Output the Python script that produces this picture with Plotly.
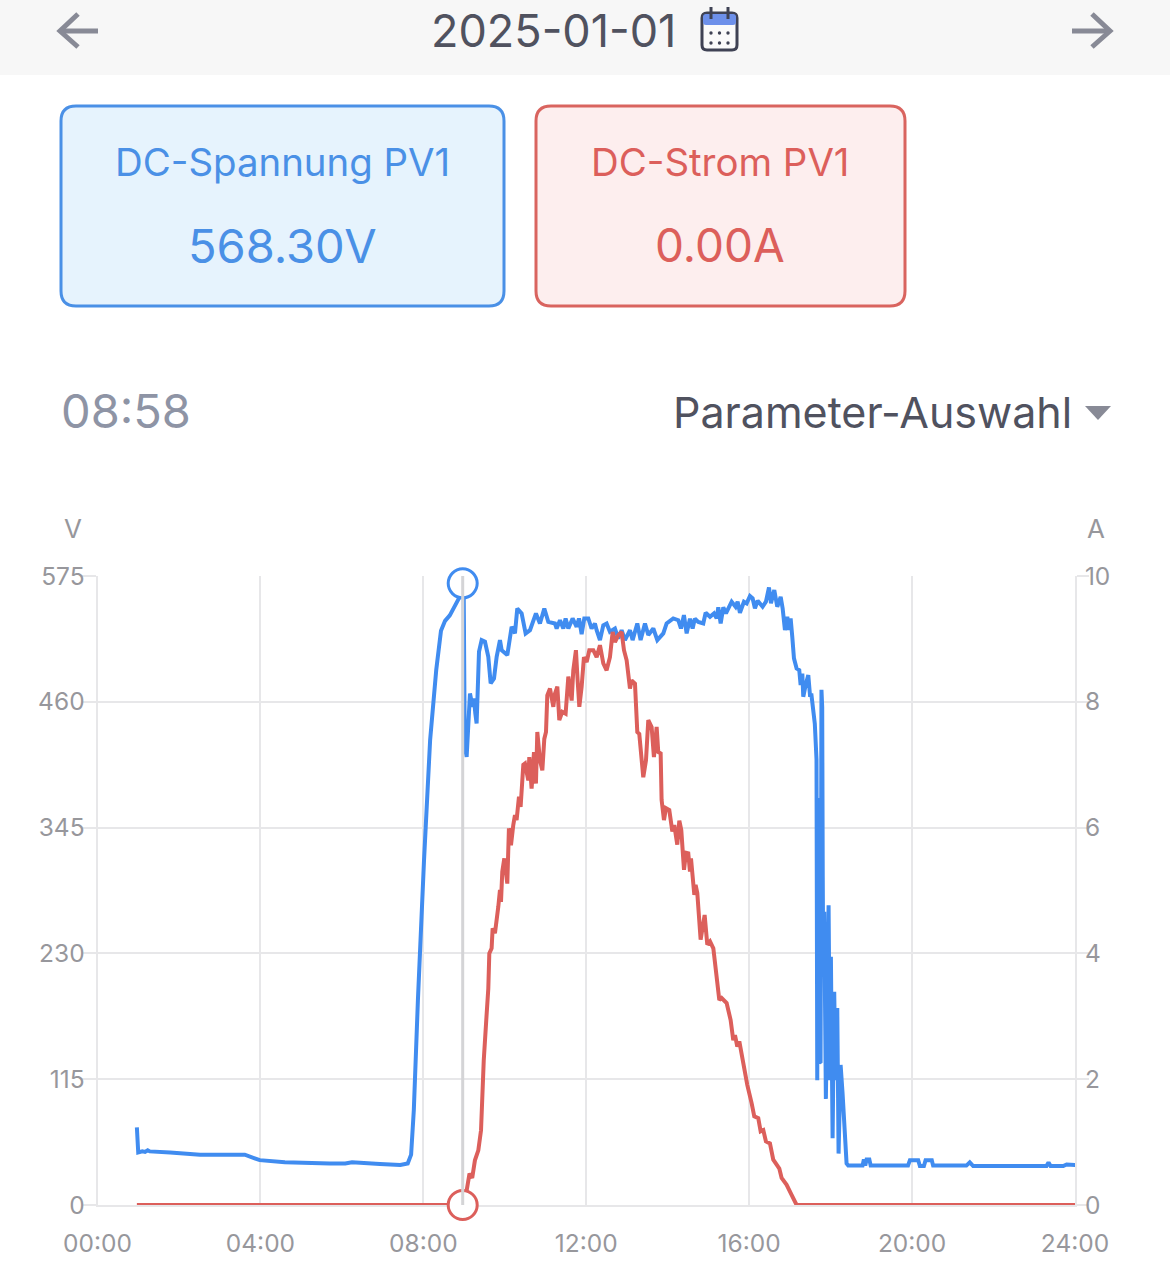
import plotly.graph_objects as go

W, H = 1170, 1270

# ---------- data ----------
date_label = "2025-01-01"
cursor_label = "08:58"
voltage_title = "DC-Spannung PV1"
current_title = "DC-Strom PV1"
voltage_reading = "568.30V"
current_reading = "0.00A"
selector_label = "Parameter-Auswahl"

x_ticks = [0, 240, 480, 720, 960, 1200, 1440]
x_labels = ["00:00", "04:00", "08:00", "12:00", "16:00", "20:00", "24:00"]
v_ticks = [0, 115, 230, 345, 460, 575]
a_ticks = [0, 2, 4, 6, 8, 10]

cursor_minute = [538]
cursor_volt = [568.3]
cursor_amp = [0.0]

volt_min = [58, 60, 66, 70, 74, 77, 107, 151, 217, 239, 276, 342, 365, 375, 416, 446, 457, 462, 466, 472, 481, 490, 499, 506, 512,
            519, 531, 535.5, 538, 539.5, 541, 543.8, 548.7, 552.6, 554.6, 556.6, 558.5, 562, 565.9, 570.8, 575.7, 579.2,
            584.1, 588, 592.9, 595.4, 603.7, 610.1, 615, 618.4, 624.8, 630.7, 637.1, 645.9, 651.8, 658.2, 664.1, 673.9,
            676.4, 681.3, 686.2, 689.6, 693.6, 699.9, 705.8, 709.3, 713.2, 717.1, 723, 727.9, 732.8, 735.3, 740.2, 745.1,
            750, 754.9, 762.3, 767.2, 772.1, 777, 784.4, 788.3, 795.2, 800.1, 806.5, 811.4, 818.8, 824.7, 833.5, 838.4,
            848.2, 855.6, 859.5, 863.9, 867.9, 872.8, 876.7, 880, 885, 892.4, 895.9, 902.3, 908.2, 912.1, 914.5, 918,
            921.9, 925.8, 934.2, 940, 943, 946.4, 952.3, 956.3, 961.2, 965.1, 968.5, 972.5, 979.8, 984.7, 989.2, 992.1,
            997, 1001.4, 1006.4, 1009.3, 1012.7, 1016.2, 1018.6, 1021.1, 1023.5, 1026, 1029.9, 1033.8, 1035.8, 1038.3,
            1039.7, 1043.2, 1047.1, 1049.6, 1051.8, 1056.7, 1059.2, 1060.3, 1061.6, 1063.2, 1065.2, 1066.5,
            1067.6, 1068.4, 1069.1, 1070.6, 1073, 1077, 1079, 1080.4, 1082.9, 1085.3, 1087.3, 1089.8, 1091.7, 1094.7,
            1097.6, 1103.5, 1106, 1127, 1129, 1131, 1133, 1137, 1139, 1194, 1196.8, 1209, 1211.5, 1217.4, 1219.9, 1229,
            1231, 1280, 1285, 1290, 1398, 1401, 1404, 1422.7, 1427.6, 1441]
volt_val = [71, 48, 49, 48.5, 50, 49, 48, 46, 46, 41, 39, 38, 38, 39, 37.5, 36.5, 38, 46, 87, 187, 315, 425, 489, 525, 534,
            539, 553, 558, 568.3, 560, 420, 409.7, 467.6, 455.4, 463, 449.3, 440.2, 505.7, 516.4, 514.9, 501.1, 476.8,
            481.3, 501.1, 516.4, 507.2, 502.7, 528.6, 522.5, 545.3, 540.8, 522.5, 525.5, 540.8, 531.6, 545.3, 533.1, 531.6,
            527, 534.6, 527, 536.2, 527, 536.2, 528.6, 536.2, 521.9, 536.2, 536.2, 527, 531.6, 525.5, 516.4, 530,
            531.6, 524, 527, 517.9, 525.5, 516.4, 525.5, 516.4, 531.6, 516.4, 531.6, 521, 527, 516.4, 522.5, 531.6,
            536.2, 534.6, 527, 539.2, 522.5, 536, 527, 536, 533, 531.6, 541.4, 537.7, 540.8, 536.2, 546.3, 531.6,
            546.3, 540.8, 551.5, 546.9, 551.5, 541.4, 551.5, 550, 556.6, 554.5, 545.4, 552.4, 546.9, 551.5, 564.6, 550,
            562.1, 546.9, 556, 545.4, 525.6, 537.7, 525.6, 536.2, 519.5, 499.7, 490.5, 489, 475.3, 485.9,
            464.6, 475.3, 484.4, 466.1, 466, 440, 407, 114, 372, 130, 131, 471,
            455, 300, 216, 268, 97, 274, 114, 227, 61, 195, 114, 180, 47, 128,
            102, 38, 36, 36, 41.7, 36, 41.7, 41.7, 36, 36, 41, 41, 35.6, 35.6, 41, 41,
            36, 36, 39, 35.6, 35.6, 39, 35.6, 35.6, 37, 36.5]

amp_min = [58, 538, 544, 548, 552, 556, 561, 565, 569, 572.7, 575.7, 577.2, 580.6, 582.1, 585.5, 590.4, 592.9, 594.4, 596.3,
           599.3, 603.7, 606.1, 609.1, 612.5, 615, 617.4, 620.9, 623.3, 627.3, 629.7, 634.6, 636.1,
           639.5, 643, 645.9, 647.9, 651.8, 655.3, 658.2, 660.7, 662.6, 666.6, 671.5, 673.9, 677.4, 680.3, 684.7, 689.6,
           693.6, 698.5, 700.9, 704.8, 707.3, 709.8, 713.2, 716.6, 720.6, 724.5, 730.4, 735.3, 740.2, 745.1, 750, 754.9,
           758.9, 762.3, 767.2, 772.1, 775.6, 779.5, 784.4, 786.8, 791.8, 795.2, 798.1, 804, 808, 811.4, 816.3, 819.7,
           823.7, 826.1, 829.6, 831, 834.5, 837.4, 842.3, 846.8, 849.7, 854.1, 857.1, 860, 864, 866.9, 870.3, 872.8, 874.3,
           879.2, 881.1, 883.6, 888.5, 894.4, 898.3, 902.3, 907.2, 916, 919.4, 926.8, 932.7, 936.6, 939.1, 942.5, 945.5,
           950.4, 957.2, 963.6, 967.5, 973.4, 976.9, 980.8, 984.7, 990.6, 995.5, 1000.5, 1004.4, 1007.8, 1015.2, 1022.5,
           1029.9, 1441]
amp_val = [0, 0, 0.24, 0.5, 0.43, 0.71, 0.87, 1.19, 2.3, 2.94, 3.44, 4.0, 4.08, 4.4, 4.32, 4.74, 5.01, 4.82, 5.3,
           5.51, 5.11, 5.99, 5.72, 6.04, 6.2, 6.12, 6.49, 6.33, 7.0, 7.02, 6.75, 7.12,
           6.62, 7.2, 6.7, 7.52, 7.07, 6.91, 7.41, 7.52, 8.1, 8.21, 7.92, 8.13, 8.24, 7.71, 7.84, 7.81,
           8.4, 8.02, 8.5, 8.82, 8.34, 7.92, 8.24, 8.71, 8.63, 8.82, 8.82, 8.71, 8.9, 8.61, 8.5, 8.71,
           9.11, 8.95, 9.06, 9.11, 8.82, 8.66, 8.21, 8.34, 8.29, 7.52, 7.49, 6.8, 7.07, 7.71, 7.6, 7.12,
           7.6, 7.2, 7.18, 6.44, 6.12, 6.31, 6.28, 5.94, 6.04, 5.73, 6.11, 5.96, 5.33, 5.6, 5.59, 5.3, 5.51,
           4.93, 5.09, 4.96, 4.22, 4.61, 4.14, 4.19, 4.08, 3.26, 3.29, 3.21, 2.94, 2.62, 2.7, 2.52, 2.6,
           2.31, 1.91, 1.62, 1.41, 1.38, 1.17, 1.19, 1.01, 0.98, 0.72, 0.64, 0.58, 0.43, 0.32, 0.16,
           0, 0]

# ---------- colours ----------
BLUE = "#408cf0"
RED = "#dc5f5b"
GRID = "#e7e7e9"
TICK = "#97979c"
FONT = "Inter"


def px(x):
    return x / W


def py(y):
    return 1 - y / H


def round_rect(x0, y0, x1, y1, r):
    a, b, c, d = px(x0), py(y0), px(x1), py(y1)
    rx, ry = r / W, r / H
    return (f"M{a+rx},{b} L{c-rx},{b} Q{c},{b} {c},{b-ry} L{c},{d+ry} Q{c},{d} {c-rx},{d} "
            f"L{a+rx},{d} Q{a},{d} {a},{d+ry} L{a},{b-ry} Q{a},{b} {a+rx},{b} Z")


def poly(points, close=False):
    s = "M" + " L".join(f"{px(x)},{py(y)}" for x, y in points)
    return s + (" Z" if close else "")


def ui_path(path, line=None, width=0, fill=None, layer="below"):
    return dict(type="path", xref="paper", yref="paper", path=path, layer=layer,
                line=dict(color=line or "rgba(0,0,0,0)", width=width),
                fillcolor=fill or "rgba(0,0,0,0)")


def label(text, x, y, size, color, anchor="center"):
    return dict(text=text, x=px(x), y=py(y), xref="paper", yref="paper", xanchor=anchor, yanchor="middle",
                showarrow=False, font=dict(family=FONT, size=size, color=color))


shapes = [
    dict(type="rect", xref="paper", yref="paper", x0=0, x1=1, y0=py(75), y1=1, layer="below",
         fillcolor="#f7f7f7", line=dict(width=0)),
    ui_path(poly([(98, 31), (60, 31)]), "#888a96", 5),
    ui_path(poly([(78, 14), (60, 31), (78, 47)]), "#888a96", 5),
    ui_path(poly([(1072, 31), (1110, 31)]), "#888a96", 5),
    ui_path(poly([(1092, 14), (1110, 31), (1092, 47)]), "#888a96", 5),
    # calendar icon
    ui_path(round_rect(702, 13, 737, 50, 5), "#3f4254", 3, "#fafafa"),
    ui_path(round_rect(703, 14, 736, 25, 3), None, 0, "#6d90ea"),
    ui_path(poly([(711, 7), (711, 19)]), "#3f4254", 3),
    ui_path(poly([(728, 7), (728, 19)]), "#3f4254", 3),
    # value cards
    ui_path(round_rect(61, 106, 504, 306, 15), "#4a90e6", 3, "#e6f3fd"),
    ui_path(round_rect(536, 106, 905, 306, 15), "#d9645f", 3, "#fdeeee"),
    # selector caret
    ui_path(poly([(1085, 406), (1111, 406), (1098, 420)], True), None, 0, "#888a96"),
    # crosshair at the selected time
    dict(type="line", xref="x", yref="paper", x0=cursor_minute[0], x1=cursor_minute[0], y0=py(1205), y1=py(576),
         layer="above", line=dict(color="#d4d4d6", width=3)),
]
for cx in (711, 719.5, 728):
    for cy in (33, 43):
        shapes.append(dict(type="circle", xref="paper", yref="paper", layer="below", fillcolor="#3f4254",
                           line=dict(width=0), x0=px(cx - 1.7), x1=px(cx + 1.7), y0=py(cy + 1.7), y1=py(cy - 1.7)))

annotations = [
    label(date_label, 553, 31, 45, "#50525f"),
    label(voltage_title, 282, 162, 38.4, "#4a90e6"),
    label(voltage_reading, 282, 245, 47, "#4a90e6"),
    label(current_title, 720, 162, 38.4, "#dc5f5b"),
    label(current_reading, 720, 245, 46, "#dc5f5b"),
    label(cursor_label, 59, 410, 47, "#8e94a5", "left"),
    label(selector_label, 671, 412, 43, "#50525f", "left"),
    label("V", 73, 528, 26, TICK),
    label("A", 1096, 528, 26, TICK),
]

fig = go.Figure()
fig.add_trace(go.Scatter(x=volt_min, y=volt_val, mode="lines", name="DC-Spannung PV1", yaxis="y", cliponaxis=False,
                         line=dict(color=BLUE, width=4, simplify=False), hoverinfo="skip"))
fig.add_trace(go.Scatter(x=amp_min, y=amp_val, mode="lines", name="DC-Strom PV1", yaxis="y2", cliponaxis=False,
                         line=dict(color=RED, width=4, simplify=False), hoverinfo="skip"))
fig.add_trace(go.Scatter(x=cursor_minute, y=cursor_volt, mode="markers", yaxis="y", cliponaxis=False,
                         marker=dict(size=29, color="white", line=dict(color=BLUE, width=3)), hoverinfo="skip"))
fig.add_trace(go.Scatter(x=cursor_minute, y=cursor_amp, mode="markers", yaxis="y2", cliponaxis=False,
                         marker=dict(size=29, color="white", line=dict(color=RED, width=3)), hoverinfo="skip"))

fig.update_layout(
    width=W, height=H, showlegend=False, margin=dict(l=0, r=0, t=0, b=0),
    paper_bgcolor="white", plot_bgcolor="white", font=dict(family=FONT, size=24.5, color=TICK),
    shapes=shapes, annotations=annotations,
    xaxis=dict(domain=[px(97.5), px(1075)], range=[0, 1440], tickmode="array", tickvals=x_ticks, ticktext=x_labels,
               showgrid=True, gridcolor=GRID, gridwidth=2, zeroline=False, showline=True, linecolor=GRID, linewidth=2,
               ticks="outside", ticklen=16, tickcolor="rgba(0,0,0,0)", tickwidth=1, layer="below traces",
               tickfont=dict(size=24.5, color=TICK), automargin=False),
    yaxis=dict(domain=[py(1205), py(576)], range=[0, 575], tickmode="array", tickvals=v_ticks,
               showgrid=True, gridcolor=GRID, gridwidth=2, zeroline=False, showline=True, linecolor=GRID, linewidth=2,
               ticks="outside", ticklen=14, ticklabelstandoff=-8, layer="below traces",
               tickcolor=GRID, tickwidth=2, tickfont=dict(size=24.5, color=TICK), automargin=False),
    yaxis2=dict(domain=[py(1205), py(576)], range=[0, 10], tickmode="array", tickvals=a_ticks, overlaying="y",
                side="right", showgrid=False, zeroline=False, showline=True, linecolor=GRID, linewidth=2,
                ticks="outside", ticklen=12, ticklabelstandoff=-9, layer="below traces",
                tickcolor=GRID, tickwidth=2, tickfont=dict(size=24.5, color=TICK), automargin=False),
)

fig.write_html("out.html", config=dict(displayModeBar=False),
               post_script="document.body.style.margin='0';document.body.style.overflow='hidden';")
